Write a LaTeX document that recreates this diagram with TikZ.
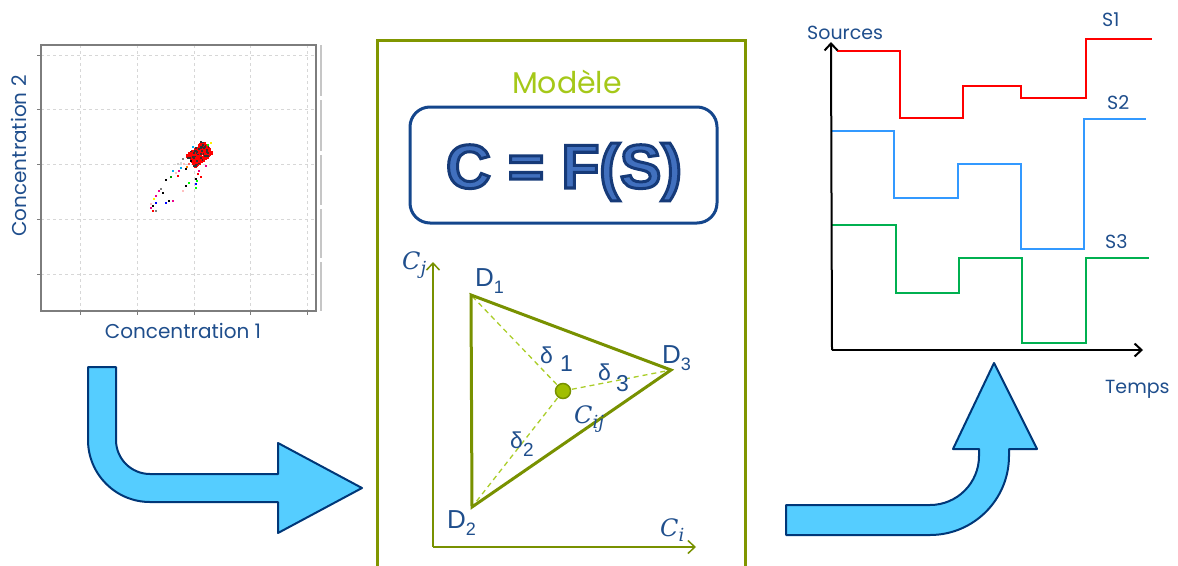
\documentclass[tikz,border=0pt]{standalone}
\usepackage{fontspec}
\usetikzlibrary{arrows.meta}
\newfontfamily\cg{Poppins}
\newfontfamily\ar{Liberation Sans}
\newfontfamily\dvs{DejaVu Serif}
\definecolor{navytxt}{RGB}{31,78,140}
\definecolor{olive}{RGB}{128,150,0}
\definecolor{olivetri}{RGB}{120,145,0}
\definecolor{lightgreen}{RGB}{165,200,25}
\definecolor{dashgreen}{RGB}{170,205,40}
\definecolor{dotgreen}{RGB}{160,190,0}
\definecolor{eqfill}{RGB}{65,112,190}
\definecolor{boxline}{RGB}{20,70,140}
\definecolor{arrfill}{RGB}{85,205,255}
\definecolor{arrline}{RGB}{0,55,120}
\definecolor{gridc}{RGB}{215,215,215}
\definecolor{framec}{RGB}{125,125,125}
\definecolor{sred}{RGB}{255,0,0}
\definecolor{sblue}{RGB}{51,153,255}
\definecolor{sgreen}{RGB}{0,176,80}
\newcommand\outlinedtext[1]{{\color{eqfill}\special{pdf:literal direct 0.086 0.227 0.47 RG 2 Tr 3 w}#1\special{pdf:literal direct 0 Tr}}}
\newcommand\mathlbl[2]{{\dvs\itshape #1\raisebox{-5pt}{\fontsize{18}{20}\selectfont #2}}}
\tikzset{
  lbl/.style={font=\cg\fontsize{19}{22}\selectfont, text=navytxt, inner sep=0pt},
  dlbl/.style={font=\ar\fontsize{26}{30}\selectfont, text=navytxt, inner sep=0pt},
  mlbl/.style={font=\fontsize{24}{28}\selectfont, text=navytxt, inner sep=0pt},
  bigarrow/.style={fill=arrfill, draw=arrline, line width=2pt, line join=round},
  srcline/.style={line width=2pt, line join=miter},
  gridl/.style={gridc, dashed, line width=0.8pt},
}
\begin{document}
\begin{tikzpicture}[x=1pt,y=-1pt]
\useasboundingbox (0,0) rectangle (1178,565);
\clip (0,0) rectangle (1178,565);

% ---------- scatter plot ----------
\foreach \gx in {80,137,194,250,307} \draw[gridl] (\gx,45) -- (\gx,311);
\foreach \gy in {55,109,164,219,274} \draw[gridl] (41,\gy) -- (316,\gy);
\foreach \gy in {55,109,164,219,274} \draw[framec, line width=0.8pt] (37,\gy) -- (41,\gy);
\foreach \gx in {80,137,194,250,307} \draw[framec, line width=0.8pt] (\gx,311) -- (\gx,315);
\draw[framec, line width=1.5pt] (41,45) rectangle (316,311);
\foreach \ya/\yb in {45/96,100/151,155/205,209/258,262/311}
  \draw[gridc!80!gray, line width=1.3pt] (321,\ya) -- (321,\yb);

\pgfmathsetseed{17}
\foreach \i in {1,...,200}{
  \pgfmathsetmacro\uu{rand*11}
  \pgfmathsetmacro\vv{rand*7}
  \pgfmathsetmacro\px{198+0.75*\uu+0.6*\vv}
  \pgfmathsetmacro\py{153-0.65*\uu+0.8*\vv}
  \fill[sred] (\px,\py) rectangle ++(3,3);
}
\foreach \i in {1,...,45}{
  \pgfmathsetmacro\uu{rand*12}
  \pgfmathsetmacro\vv{rand*8}
  \pgfmathsetmacro\px{198+0.75*\uu+0.6*\vv}
  \pgfmathsetmacro\py{153-0.65*\uu+0.8*\vv}
  \fill[black!80] (\px,\py) rectangle ++(1.8,1.8);
}
\foreach \px/\py/\pc in {210/142/yellow,207/144/green,192/146/cyan,205/165/magenta,
  182/158/gray,183/163/pink,188/163/red!60,177/163/gray!40,180/167/cyan,178/170/magenta,
  172/170/cyan,177/175/red,185/168/black,198/170/magenta,197/173/red,195/178/black,
  195/183/blue,195/187/green,188/182/green,185/185/black,182/190/pink,165/179/black,
  160/188/gray,162/192/black,155/195/magenta,153/198/yellow,155/202/blue,152/205/black,
  150/207/magenta,152/210/red,155/210/gray,168/200/black,172/200/magenta,165/202/blue,
  180/162/gray!30,190/160/black,186/166/orange,170/176/green!60!black,200/176/red,
  175/172/pink,158/190/magenta,150/203/pink,196/180/green}
  \fill[\pc] (\px,\py) rectangle ++(2.4,2.4);

\node[lbl, font=\cg\fontsize{20}{24}\selectfont, anchor=base] (c1) at (183,338) {Concentration 1};
\node[lbl, font=\cg\fontsize{20}{24}\selectfont, anchor=base, rotate=90] (c2) at (26,156) {Concentration 2};

% ---------- left curved arrow ----------
\draw[bigarrow] (88,367) -- (116,367) -- (116,440) arc[start angle=180,end angle=90,radius=34]
  -- (278,474) -- (278,443) -- (362,488) -- (278,533) -- (278,502) -- (150,502)
  arc[start angle=90,end angle=180,radius=62] -- cycle;

% ---------- model box ----------
\draw[olive, line width=3pt] (377,580) -- (377,40) -- (745,40) -- (745,580);
\node[font=\cg\fontsize{30}{36}\selectfont, text=lightgreen, anchor=base, inner sep=0pt] (mod) at (567,93) {Modèle};
\draw[boxline, line width=3pt, rounded corners=20pt] (410,107) rectangle (717,223);
\node[font=\ar\bfseries\fontsize{62}{70}\selectfont, anchor=base, inner sep=0pt] (eq) at (564,188) {\outlinedtext{C = F(S)}};

% axes
\draw[olivetri, line width=1.5pt, -{Straight Barb[length=7pt,width=13pt]}] (433,547) -- (433,262);
\draw[olivetri, line width=1.5pt, -{Straight Barb[length=7pt,width=13pt]}] (433,547) -- (696,547);
\node[mlbl, anchor=base west] (cj) at (402,269) {\mathlbl{C}{j}};
\node[mlbl, anchor=base west] (ci) at (660,536) {\mathlbl{C}{i}};

% triangle
\coordinate (d1) at (471,295);
\coordinate (d2) at (472,507);
\coordinate (d3) at (671,370);
\coordinate (cc) at (563,391);
\draw[dashgreen, dashed, line width=1.3pt, dash pattern=on 5pt off 4pt] (cc) -- (d1) (cc) -- (d2) (cc) -- (d3);
\draw[olivetri, line width=3pt, line join=miter] (d1) -- (d3) -- (d2) -- cycle;
\node[circle, fill=dotgreen, draw=olivetri, line width=1.5pt, minimum width=15pt, minimum height=13pt, inner sep=0pt] (cij) at (cc) {};

\node[dlbl, anchor=base west] (D1) at (475,286) {D\raisebox{-7pt}{\fontsize{18}{20}\selectfont 1}};
\node[dlbl, anchor=base west] (D2) at (447,528) {D\raisebox{-7pt}{\fontsize{18}{20}\selectfont 2}};
\node[dlbl, anchor=base west] (D3) at (662,363) {D\raisebox{-7pt}{\fontsize{18}{20}\selectfont 3}};

\node[dlbl, font=\ar\fontsize{23}{27}\selectfont, anchor=base west] (dl1) at (540,363) {δ\hspace{7pt}\raisebox{-8pt}{1}};
\node[dlbl, font=\ar\fontsize{23}{27}\selectfont, anchor=base west] (dl3) at (598,380) {δ\hspace{5pt}\raisebox{-11pt}{3}};
\node[dlbl, font=\ar\fontsize{23}{27}\selectfont, anchor=base west] (dl2) at (510,448) {δ\raisebox{-8pt}{\fontsize{19}{22}\selectfont 2}};
\node[mlbl, anchor=base west] (cijl) at (574,423) {\mathlbl{C}{ij}};

% ---------- right curved arrow ----------
\draw[bigarrow] (786,505) -- (930,505) arc[start angle=90,end angle=0,radius=49]
  -- (979,449) -- (953,449) -- (994,363) -- (1037,449) -- (1009,449) -- (1009,456)
  arc[start angle=0,end angle=90,radius=79] -- (786,535) -- cycle;

% ---------- sources plot ----------
\draw[sred, srcline] (837,51) -- (900,51) -- (900,118) -- (963,118) -- (963,86) -- (1021,86)
  -- (1021,98) -- (1086,98) -- (1086,39) -- (1152,39);
\draw[sblue, srcline] (831,131) -- (894,131) -- (894,198) -- (958,198) -- (958,164) -- (1021,164)
  -- (1021,249) -- (1084,249) -- (1084,119) -- (1146,119);
\draw[sgreen, srcline] (832,225) -- (896,225) -- (896,293) -- (959,293) -- (959,258) -- (1022,258)
  -- (1022,343) -- (1086,343) -- (1086,258) -- (1149,258);
\draw[black, line width=2pt, -{Straight Barb[length=7pt,width=13pt]}] (832,350) -- (831,42);
\draw[black, line width=2pt, -{Straight Barb[length=7pt,width=13pt]}] (832,350) -- (1143,350);

\node[lbl, anchor=base west] (src) at (807,39) {Sources};
\node[lbl, anchor=base west] (tmp) at (1105,393) {Temps};
\node[lbl, anchor=base west] (s1) at (1102,26) {S1};
\node[lbl, anchor=base west] (s2) at (1107,109) {S2};
\node[lbl, anchor=base west] (s3) at (1105,248) {S3};
\end{tikzpicture}
\end{document}
